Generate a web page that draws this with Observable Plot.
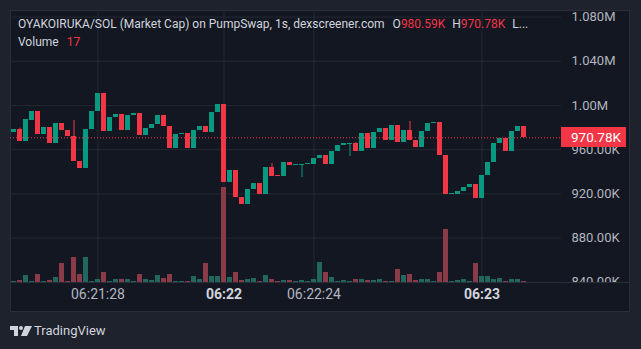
<!DOCTYPE html>
<html><head><meta charset="utf-8">
<script src="https://cdn.jsdelivr.net/npm/d3@7"></script>
<script src="https://cdn.jsdelivr.net/npm/@observablehq/plot@0.6"></script>
<style>
html,body{margin:0;padding:0;background:#1e222d;}
#root{position:relative;width:641px;height:349px;background:#1e222d;overflow:hidden;font-family:Roboto,"Noto Sans",sans-serif;}
#panel{position:absolute;left:10px;top:10px;width:620px;height:302px;background:#131722;box-shadow:inset 0 0 0 1px #2a2e39;}
.layer{position:absolute;left:10px;top:10px;}
.layer svg{overflow:hidden;display:block;}
#sep{position:absolute;left:10px;top:282px;width:620px;height:1px;background:#2a2e39;}
.legend{position:absolute;left:18px;font-size:12px;line-height:16px;color:#d1d4dc;white-space:nowrap;}
.red{color:#f23645;}
#brand{position:absolute;left:34px;top:323px;font-size:13px;line-height:16px;color:#d1d4dc;}
#logo{position:absolute;left:10px;top:326px;}
</style>
</head><body>
<div id="root">
  <div id="panel"></div>
  <div class="layer" id="gridLayer"></div>
  <div class="layer" id="volLayer"></div>
  <div id="sep"></div>
  <div class="layer" id="priceLayer"></div>
  <div class="legend" style="top:16px">OYAKOIRUKA/SOL (Market Cap) on PumpSwap, 1s, dexscreener.com<span style="margin-left:8px">O</span><span class="red">980.59K</span><span style="margin-left:7px">H</span><span class="red">970.78K</span><span style="margin-left:7px">L...</span></div>
  <div class="legend" style="top:34px">Volume<span class="red" style="margin-left:8px">17</span></div>
  <svg id="logo" width="22" height="11" viewBox="0 0 22 11"><path d="M0 0H8V10H4V4H0Z" fill="#d1d4dc"/><circle cx="11" cy="2" r="2" fill="#d1d4dc"/><path d="M15 0H22L17 10H11Z" fill="#d1d4dc"/></svg>
  <div id="brand">TradingView</div>
</div>
<script>
// ---- data (market cap in thousands) ----
const open = [975.6,978.3,967.4,986.4,994.6,973.8,980.1,965.6,983.7,977.4,
972.0,949.3,943.0,978.3,994.6,1010.9,976.5,989.1,991.9,977.4,
991.0,992.8,972.9,979.2,982.8,991.0,981.0,961.1,973.8,974.7,
961.1,977.4,981.0,975.6,993.7,1000.9,930.3,941.2,916.7,910.4,
924.0,929.4,919.5,943.9,936.6,935.8,948.4,945.7,945.7,946.6,
946.6,952.0,954.8,946.6,958.4,963.8,964.7,965.6,958.4,974.7,
961.1,975.6,979.2,968.3,981.9,966.5,977.4,968.3,962.0,976.5,
983.7,984.6,954.8,919.5,919.5,922.2,925.8,928.5,915.8,936.6,
948.4,965.6,970.1,958.4,976.5,980.59];
const close = [978.3,967.4,987.3,994.6,973.8,980.1,965.6,983.7,977.4,972.0,
949.3,943.0,978.3,994.6,1010.9,976.5,989.1,991.9,977.4,991.0,
992.8,972.9,979.2,982.8,991.0,981.0,961.1,973.8,974.7,961.1,
977.4,981.0,975.6,993.7,1000.9,930.3,941.2,916.7,910.4,924.0,
929.4,919.5,943.9,935.8,935.8,948.4,945.7,946.6,946.6,947.5,
952.0,954.8,946.6,958.4,963.8,965.6,965.6,958.4,974.7,961.1,
975.6,979.2,968.3,981.9,966.5,977.4,968.3,962.0,976.5,983.7,
984.6,954.8,919.5,920.4,922.2,925.8,928.5,915.8,936.6,948.4,
965.6,970.1,958.4,976.5,981.0,970.78];
// visible wicks beyond the body
const wickBar  = [1, 10, 43, 48, 56, 57, 66];
const wickHigh = [979.5, 986.4, 947.5, null, null, 966.5, 985.5];
const wickLow  = [null, null, null, 934.8, 953.9, null, null];
const volume = [17,29,114,17,131,17,29,80,318,17,
420,131,420,17,46,165,17,46,46,46,
17,131,46,29,114,63,131,17,17,17,
97,46,318,97,97,1615,80,165,29,46,
63,17,114,46,17,29,29,17,29,17,
46,335,165,80,17,29,17,46,46,29,
29,46,17,17,216,114,131,29,46,46,
17,165,896,17,29,46,17,318,97,97,
46,63,17,46,46,17];
const priceTicks = [840, 880, 920, 960, 1000, 1040, 1080];
const priceTickLabels = ["840.00K","880.00K","920.00K","960.00K","1.00M","1.040M","1.080M"];
const timeTickBar = [14, 35, 50, 78];
const timeTickLabels = ["06:21:28","06:22","06:22:24","06:23"];
const timeTickBold = [false, true, false, true];
const lastLabel = "970.78K";

// ---- build ----
const idx = d3.range(open.length);
const high = idx.map(i => Math.max(open[i], close[i]));
const low = idx.map(i => Math.min(open[i], close[i]));
wickBar.forEach((b, k) => {
  if (wickHigh[k] != null) high[b] = Math.max(high[b], wickHigh[k]);
  if (wickLow[k] != null) low[b] = Math.min(low[b], wickLow[k]);
});
const UP = "#089981", DOWN = "#f23645";
const VUP = "#22675e", VDOWN = "#8b3a48";
const GRID = "#242833";
const AXIS = "#b2b5be";
const isUp = i => close[i] >= open[i];
const half = 2.5 / 6;
const W = 620, MR = 69, IH = 272;
const xDomain = [-3.5 / 6, (W - MR - 3.5) / 6];
const yDomain = [839.8, 1085.97];
const lastClose = close[close.length - 1];
const common = {
  width: W, marginLeft: 0, marginRight: MR, marginTop: 0,
  x: {type: "linear", domain: xDomain, axis: null},
  style: {background: "transparent", overflow: "hidden"}
};

const gridPlot = Plot.plot({
  ...common, height: IH, marginBottom: 0,
  y: {domain: yDomain, axis: null},
  marks: [
    Plot.ruleY(priceTicks, {stroke: GRID}),
    Plot.ruleX(timeTickBar, {stroke: GRID})
  ]
});
document.getElementById("gridLayer").appendChild(gridPlot);

const boldIdx = d3.range(timeTickBar.length).filter(k => timeTickBold[k]);
const regIdx = d3.range(timeTickBar.length).filter(k => !timeTickBold[k]);
const volPlot = Plot.plot({
  ...common, height: IH + 30, marginBottom: 30,
  y: {domain: [0, IH * 17], axis: null},
  marks: [
    Plot.rect(idx, {x1: i => i - half, x2: i => i + half, y1: 0, y2: i => volume[i],
      fill: i => isUp(i) ? VUP : VDOWN, shapeRendering: "crispEdges"}),
    Plot.text(regIdx, {x: k => timeTickBar[k], text: k => timeTickLabels[k], frameAnchor: "bottom",
      dy: 16, fill: AXIS, fontSize: 14, fontFamily: "Roboto"}),
    Plot.text(boldIdx, {x: k => timeTickBar[k], text: k => timeTickLabels[k], frameAnchor: "bottom",
      dy: 16, fill: "#d1d4dc", fontSize: 14, fontWeight: "bold", fontFamily: "Roboto"})
  ]
});
document.getElementById("volLayer").appendChild(volPlot);

const labelBox = (index, scales, values, dimensions) => {
  const yy = scales.y(lastClose);
  const x0 = dimensions.width - dimensions.marginRight;
  const g = d3.create("svg:g");
  g.append("rect").attr("x", x0).attr("y", Math.round(yy) - 10).attr("width", 65).attr("height", 20)
    .attr("fill", DOWN);
  g.append("text").attr("x", x0 + 10).attr("y", yy).attr("dy", "0.35em").attr("text-anchor", "start")
    .attr("fill", "white").attr("font-size", 13.5).attr("font-family", "Roboto").text(lastLabel);
  return g.node();
};

const pricePlot = Plot.plot({
  ...common, height: IH, marginBottom: 0,
  y: {domain: yDomain, axis: null},
  marks: [
    Plot.ruleX(idx, {x: i => i, y1: i => low[i], y2: i => high[i], stroke: i => isUp(i) ? UP : DOWN}),
    Plot.rect(idx, {x1: i => i - half, x2: i => i + half, y1: i => open[i], y2: i => close[i],
      fill: i => isUp(i) ? UP : DOWN, shapeRendering: "crispEdges"}),
    Plot.ruleY([lastClose], {stroke: DOWN, strokeDasharray: "1 2"}),
    Plot.text(priceTicks, {y: d => d, text: (d, k) => priceTickLabels[k], frameAnchor: "right",
      dx: 10, textAnchor: "start", fill: AXIS, fontSize: 13, fontFamily: "Roboto"}),
    labelBox
  ]
});
document.getElementById("priceLayer").appendChild(pricePlot);
</script>
</body></html>
